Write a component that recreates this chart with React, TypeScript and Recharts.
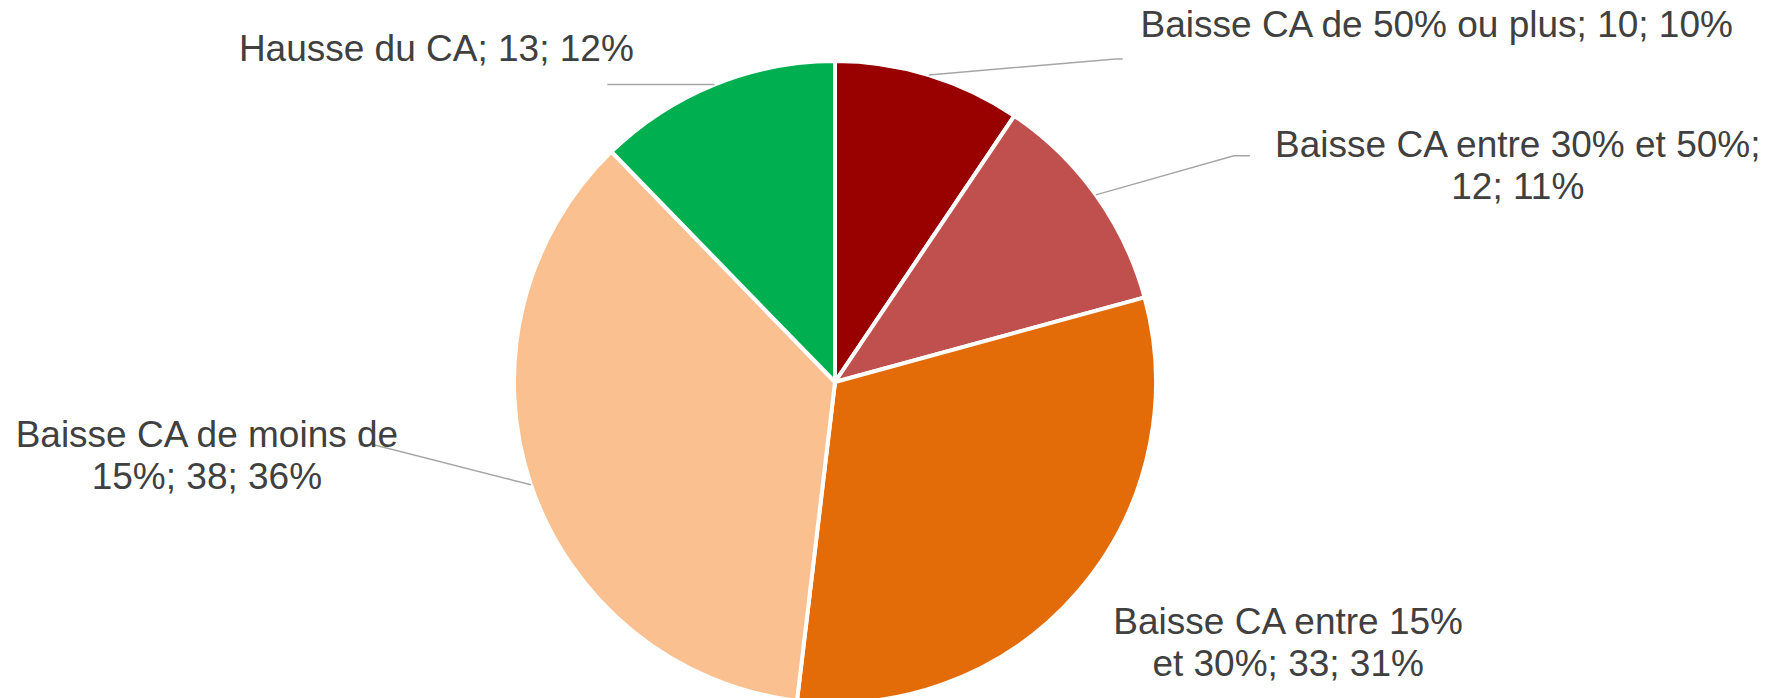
import React from 'react';
import { PieChart, Pie, Cell } from 'recharts';

const categories = [
  'Baisse CA de 50% ou plus',
  'Baisse CA entre 30% et 50%',
  'Baisse CA entre 15% et 30%',
  'Baisse CA de moins de 15%',
  'Hausse du CA',
];
const counts = [10, 12, 33, 38, 13];
const shares = ['10%', '11%', '31%', '36%', '12%'];

const colors = ['#990000', '#C0504D', '#E36C09', '#FAC090', '#00B050'];

// label placement relative to the slice's outer edge point (Excel-style manual layout)
// text: offset of first line centre; leader: elbow points; wrap: words on first line
const labelLayout = [
  { text: [508, -50], leader: [[187, -16], [194, -16]], wrap: 99 },
  { text: [422, -50], leader: [[138, -39], [154, -39]], wrap: 6 },
  { text: [210, 30], leader: [], wrap: 4 },
  { text: [-324, -50], leader: [[-157, -40], [-171, -40]], wrap: 5 },
  { text: [-278, -36], leader: [[-107, 0]], wrap: 99 },
];

const data = categories.map((name, i) => ({ name, value: counts[i], share: shares[i] }));

const RAD = Math.PI / 180;
const FONT = '"Liberation Sans", Arial, sans-serif';

const renderLabel = (props: any) => {
  const { cx, cy, midAngle, outerRadius, index, name, value, payload } = props;
  const lay = labelLayout[index];
  const ex = cx + outerRadius * Math.cos(-midAngle * RAD);
  const ey = cy + outerRadius * Math.sin(-midAngle * RAD);
  const share = payload?.share ?? (payload?.payload?.share);
  const words = `${name}; ${value}; ${share}`.split(' ');
  const lines = [words.slice(0, lay.wrap).join(' ')];
  if (words.length > lay.wrap) lines.push(words.slice(lay.wrap).join(' '));
  const pts = [[0, 0], ...lay.leader].map(([dx, dy]) => `${ex + dx},${ey + dy}`).join(' ');
  return (
    <g key={`lbl-${index}`}>
      {lay.leader.length > 0 && (
        <polyline points={pts} fill="none" stroke="#A6A6A6" strokeWidth={1.5} />
      )}
      {lines.map((t, j) => (
        <text
          key={j}
          x={ex + lay.text[0]}
          y={ey + lay.text[1] + j * 42}
          textAnchor="middle"
          dominantBaseline="central"
          fill="#404040"
          fontSize={37}
          fontFamily={FONT}
        >
          {t}
        </text>
      ))}
    </g>
  );
};

export default function App() {
  return (
    <div style={{ width: 1769, height: 698, background: '#fff' }}>
      <style>{`body{margin:0}`}</style>
      <PieChart width={1769} height={698} margin={{ top: 0, right: 0, bottom: 0, left: 0 }}>
        <Pie
          data={data}
          dataKey="value"
          nameKey="name"
          cx={835}
          cy={382}
          outerRadius={321}
          startAngle={90}
          endAngle={-270}
          stroke="#FFFFFF"
          strokeWidth={4}
          label={renderLabel}
          labelLine={false}
          isAnimationActive={false}
        >
          {data.map((d, i) => (
            <Cell key={d.name} fill={colors[i]} />
          ))}
        </Pie>
      </PieChart>
    </div>
  );
}
